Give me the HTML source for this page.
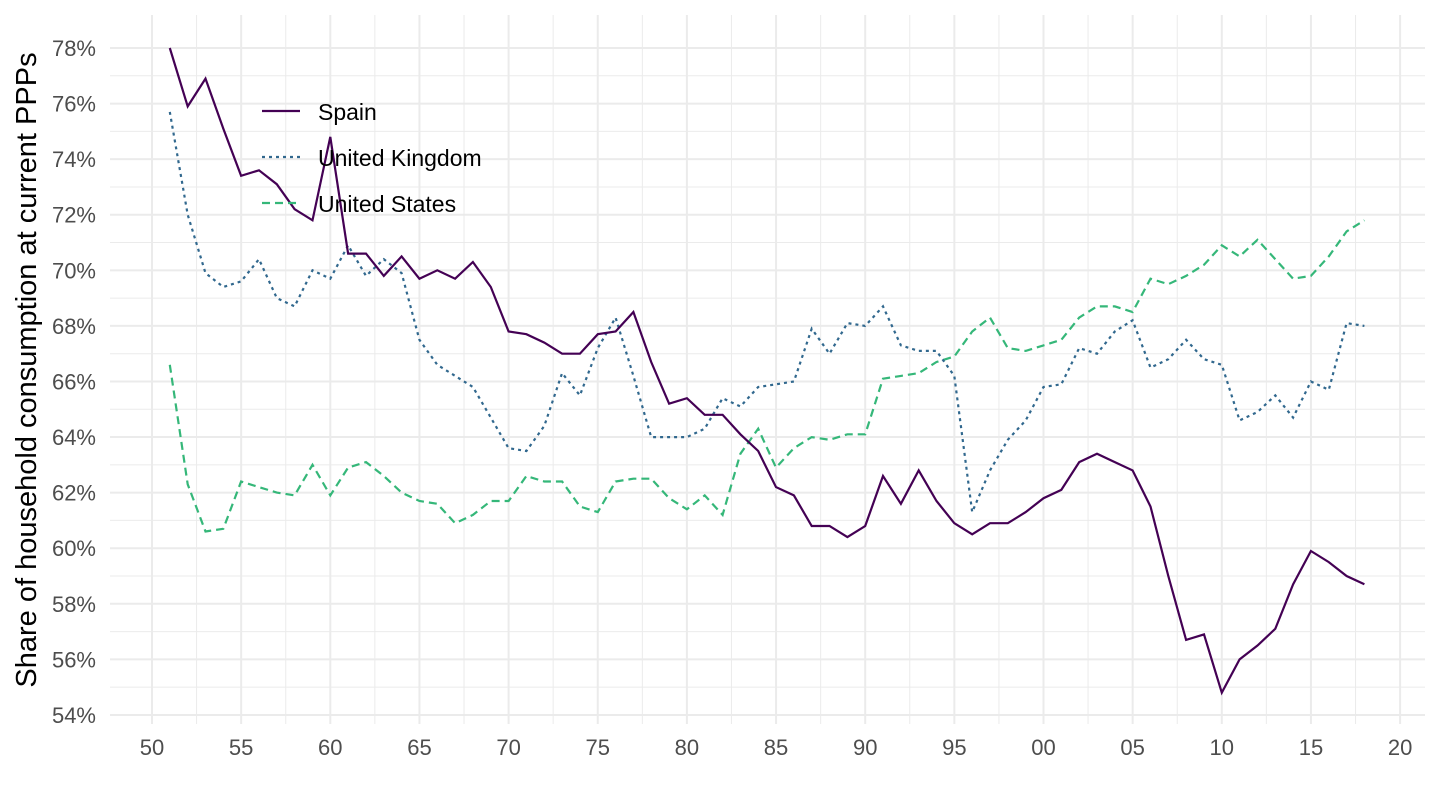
<!DOCTYPE html>
<html><head><meta charset="utf-8"><style>body{margin:0;background:#fff}svg{display:block}</style></head>
<body>
<svg id="s" width="1440" height="810" xmlns="http://www.w3.org/2000/svg" font-family="Liberation Sans, sans-serif"></svg>
<script>
const s=document.getElementById('s');
const X=y=>152+(y-1950)*17.83, Y=v=>48+(78-v)*27.79;
let h='';
for(let v=55;v<=77;v+=2) h+=`<line x1="110" x2="1425" y1="${Y(v)}" y2="${Y(v)}" stroke="#ebebeb" stroke-width="1"/>`;
for(let v=54;v<=78;v+=2) h+=`<line x1="110" x2="1425" y1="${Y(v)}" y2="${Y(v)}" stroke="#ebebeb" stroke-width="2"/>`;
for(let y=1952.5;y<2020;y+=5) h+=`<line y1="15" y2="724" x1="${X(y)}" x2="${X(y)}" stroke="#ebebeb" stroke-width="1"/>`;
for(let y=1950;y<=2020;y+=5) h+=`<line y1="15" y2="724" x1="${X(y)}" x2="${X(y)}" stroke="#ebebeb" stroke-width="2"/>`;
for(let v=54;v<=78;v+=2) h+=`<text x="96" y="${Y(v)+8}" text-anchor="end" font-size="22" fill="#4d4d4d">${v}%</text>`;
for(let y=1950;y<=2020;y+=5) h+=`<text x="${X(y)}" y="755" text-anchor="middle" font-size="22" fill="#4d4d4d">${String(y%100).padStart(2,'0')}</text>`;
h+=`<text transform="translate(36,370) rotate(-90)" text-anchor="middle" font-size="29" fill="#000">Share of household consumption at current PPPs</text>`;
const es=[78.0,75.9,76.9,75.1,73.4,73.6,73.1,72.2,71.8,74.8,70.6,70.6,69.8,70.5,69.7,70.0,69.7,70.3,69.4,67.8,67.7,67.4,67.0,67.0,67.7,67.8,68.5,66.7,65.2,65.4,64.8,64.8,64.1,63.5,62.2,61.9,60.8,60.8,60.4,60.8,62.6,61.6,62.8,61.7,60.9,60.5,60.9,60.9,61.3,61.8,62.1,63.1,63.4,63.1,62.8,61.5,59.0,56.7,56.9,54.8,56.0,56.5,57.1,58.7,59.9,59.5,59.0,58.7];
const uk=[75.7,72.0,69.9,69.4,69.6,70.4,69.0,68.7,70.0,69.7,70.9,69.8,70.4,69.9,67.5,66.6,66.2,65.8,64.7,63.6,63.5,64.4,66.3,65.5,67.2,68.3,66.2,64.0,64.0,64.0,64.3,65.4,65.1,65.8,65.9,66.0,67.9,67.0,68.1,68.0,68.7,67.3,67.1,67.1,66.2,61.3,62.8,63.9,64.6,65.8,65.9,67.2,67.0,67.8,68.2,66.5,66.8,67.5,66.8,66.6,64.6,64.9,65.5,64.7,66.0,65.7,68.1,68.0];
const us=[66.6,62.3,60.6,60.7,62.4,62.2,62.0,61.9,63.0,61.9,62.9,63.1,62.6,62.0,61.7,61.6,60.9,61.2,61.7,61.7,62.6,62.4,62.4,61.5,61.3,62.4,62.5,62.5,61.8,61.4,61.9,61.2,63.4,64.3,62.9,63.6,64.0,63.9,64.1,64.1,66.1,66.2,66.3,66.7,66.9,67.8,68.3,67.2,67.1,67.3,67.5,68.3,68.7,68.7,68.5,69.7,69.5,69.8,70.2,70.9,70.5,71.1,70.4,69.7,69.8,70.5,71.4,71.8];
const pl=(d,c,da)=>`<polyline fill="none" stroke="${c}" stroke-width="2.2" ${da?`stroke-dasharray="${da}"`:''} points="${d.map((v,i)=>X(1951+i).toFixed(1)+','+Y(v).toFixed(1)).join(' ')}"/>`;
h+=pl(us,'#35b779','8,5')+pl(uk,'#31688e','3,4')+pl(es,'#440154');
h+=`<line x1="262" x2="300" y1="111" y2="111" stroke="#440154" stroke-width="2.2"/>
<line x1="262" x2="300" y1="157" y2="157" stroke="#31688e" stroke-width="2.2" stroke-dasharray="3,4"/>
<line x1="262" x2="300" y1="203" y2="203" stroke="#35b779" stroke-width="2.2" stroke-dasharray="8,5"/>
<text x="318" y="120" font-size="23">Spain</text>
<text x="318" y="166" font-size="23">United Kingdom</text>
<text x="318" y="212" font-size="23">United States</text>`;
s.innerHTML=h;
</script>
</body></html>
